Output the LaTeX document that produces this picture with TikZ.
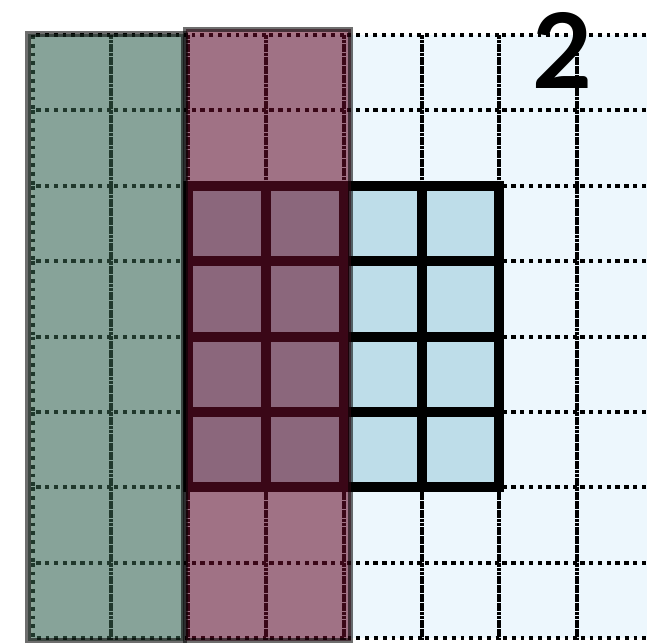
\documentclass[tikz,border=0pt]{standalone}
\usepackage{fontspec}
\setsansfont{Lato}
\usetikzlibrary{positioning}
\definecolor{skyfill}{RGB}{237,247,253}
\definecolor{winfill}{RGB}{190,221,233}
\definecolor{bandgreen}{RGB}{58,100,78}
\definecolor{bandpink}{RGB}{102,14,42}

\begin{document}
\begin{tikzpicture}[
    x=1pt, y=-1pt,
    cel/.style={draw=black, line width=4pt, dash pattern=on 3.8pt off 5pt},
    win/.style={draw=black, line width=10pt},
    bnd/.style={draw=black, line width=5.5pt, opacity=0.57},
    num/.style={font=\sffamily\bfseries\fontsize{104}{104}\selectfont, inner sep=0pt}
]
\useasboundingbox (0,0) rectangle (647,644);
\clip (0,0) rectangle (647,644);
% input grid
\fill[skyfill] (33,35) rectangle (655,638);
\foreach \i in {0,...,7}
  \foreach \j in {0,...,7}
    \draw[cel] ({33+77.7*\i},{35+75.4*\j}) rectangle +(77.7,75.4);
% window 4x4
\fill[winfill] (188.4,185.8) rectangle (499.2,487.4);
\foreach \i in {2,...,5}
  \foreach \j in {2,...,5}
    \draw[win] ({33+77.7*\i},{35+75.4*\j}) rectangle +(77.7,75.4);
% bands
\draw[bnd, fill=bandgreen] (28,34) rectangle (184,640.5);
\draw[bnd, fill=bandpink] (185.5,29.5) rectangle (350.5,640.5);
\node[num] (stride) at (563,50) {2};
\end{tikzpicture}
\end{document}
